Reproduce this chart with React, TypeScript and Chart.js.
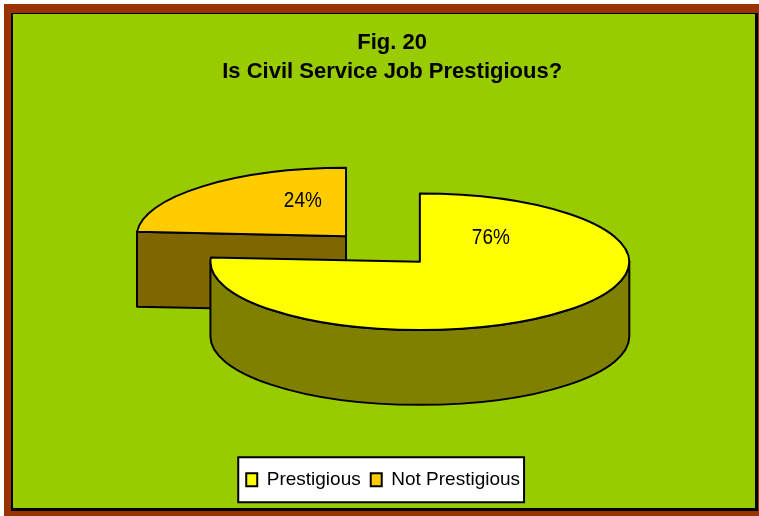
import React, { useEffect, useRef } from 'react';
import { Chart, registerables } from 'chart.js';

Chart.register(...registerables);

// ---- data ----
const categories = ['Prestigious', 'Not Prestigious'];
const shares = [76, 24];
const titleLines = ['Fig. 20', 'Is Civil Service Job Prestigious?'];

// ---- style ----
const topColors = ['#FFFF00', '#FFCC00'];
const sideColors = ['#808000', '#806600'];
const explosion = [0, 0.515]; // fraction of radius
const labelOffsets = [
  [0.339, -0.347],
  [-0.206, -0.518],
]; // relative to slice centre, in radius units (flat circle space)

const TILT = 0.326; // ry / rx
const DEPTH = 0.357; // depth / rx
const FONT = '"Liberation Sans", Arial, Helvetica, sans-serif';

const pie3d = {
  id: 'pie3d',
  afterLayout(chart: any) {
    const t = chart.titleBlock;
    if (t) {
      t.left += 9;
      t.right += 9;
    }
  },
  beforeDraw(chart: any) {
    const lg = chart.legend;
    const hb = lg && lg.legendHitBoxes;
    if (!hb || !hb.length) return;
    const ctx = chart.ctx as CanvasRenderingContext2D;
    const first = hb[0];
    const last = hb[hb.length - 1];
    const left = first.left - 8;
    const right = last.left + last.width + 4;
    const cy = first.top + first.height / 2;
    ctx.save();
    ctx.fillStyle = '#FFFFFF';
    ctx.strokeStyle = '#000000';
    ctx.lineWidth = 2;
    ctx.fillRect(left, cy - 22.5, right - left, 45);
    ctx.strokeRect(left, cy - 22.5, right - left, 45);
    ctx.restore();
  },
  beforeDatasetsDraw(chart: any) {
    const ctx = chart.ctx as CanvasRenderingContext2D;
    const meta = chart.getDatasetMeta(0);
    const arcs = meta.data as any[];
    const ca = chart.chartArea;
    const values = chart.data.datasets[0].data as number[];
    const total = values.reduce((a: number, b: number) => a + b, 0);

    const slices = arcs.map((a, i) => {
      const start = a.startAngle as number;
      const end = a.endAngle as number;
      const mid = (start + end) / 2;
      const e = explosion[i] || 0;
      return { i, start, end, ox: e * Math.cos(mid), oy: e * Math.sin(mid) * TILT };
    });

    // bounding box in unit space
    let minX = Infinity, maxX = -Infinity, minY = Infinity, maxY = -Infinity;
    const add = (x: number, y: number) => {
      minX = Math.min(minX, x); maxX = Math.max(maxX, x);
      minY = Math.min(minY, y); maxY = Math.max(maxY, y);
    };
    slices.forEach((s) => {
      add(s.ox, s.oy); add(s.ox, s.oy + DEPTH);
      const N = 200;
      for (let k = 0; k <= N; k++) {
        const t = s.start + ((s.end - s.start) * k) / N;
        const x = s.ox + Math.cos(t);
        const y = s.oy + Math.sin(t) * TILT;
        add(x, y); add(x, y + DEPTH);
      }
    });
    const bw = maxX - minX, bh = maxY - minY;
    const sc = Math.min((ca.right - ca.left) / bw, (ca.bottom - ca.top) / bh);
    const X0 = (ca.left + ca.right) / 2 - (sc * (minX + maxX)) / 2;
    const Y0 = (ca.top + ca.bottom) / 2 - (sc * (minY + maxY)) / 2;
    const rx = sc, ry = sc * TILT, d = sc * DEPTH;

    ctx.save();
    ctx.lineWidth = 2;
    ctx.strokeStyle = '#000000';
    ctx.lineJoin = 'round';

    const order = [...slices].sort((a, b) => a.oy - b.oy || a.i - b.i);
    order.forEach((s) => {
      const cx = X0 + sc * s.ox;
      const cy = Y0 + sc * s.oy;
      const side = sideColors[s.i];
      const rim = (t: number) => [cx + rx * Math.cos(t), cy + ry * Math.sin(t)];

      const radial = (t: number) => {
        const [px, py] = rim(t);
        ctx.beginPath();
        ctx.moveTo(cx, cy);
        ctx.lineTo(px, py);
        ctx.lineTo(px, py + d);
        ctx.lineTo(cx, cy + d);
        ctx.closePath();
        ctx.fillStyle = side;
        ctx.fill();
        ctx.stroke();
      };
      if (Math.cos(s.start) < -1e-6) radial(s.start);
      if (Math.cos(s.end) > 1e-6) radial(s.end);

      // curved outer side, visible for angles in [2k*pi, 2k*pi + pi]
      for (let k = -1; k <= 2; k++) {
        const lo = Math.max(s.start, 2 * Math.PI * k);
        const hi = Math.min(s.end, 2 * Math.PI * k + Math.PI);
        if (hi - lo > 1e-6) {
          const [hx, hy] = rim(hi);
          ctx.beginPath();
          ctx.ellipse(cx, cy, rx, ry, 0, lo, hi);
          ctx.lineTo(hx, hy + d);
          ctx.ellipse(cx, cy + d, rx, ry, 0, hi, lo, true);
          ctx.closePath();
          ctx.fillStyle = side;
          ctx.fill();
          ctx.stroke();
        }
      }

      // top face
      const [sx, sy] = rim(s.start);
      ctx.beginPath();
      ctx.moveTo(cx, cy);
      ctx.lineTo(sx, sy);
      ctx.ellipse(cx, cy, rx, ry, 0, s.start, s.end);
      ctx.closePath();
      ctx.fillStyle = topColors[s.i];
      ctx.fill();
      ctx.stroke();
    });

    // labels
    ctx.fillStyle = '#000000';
    ctx.font = `19px ${FONT}`;
    ctx.textAlign = 'center';
    ctx.textBaseline = 'middle';
    slices.forEach((s) => {
      const cx = X0 + sc * s.ox;
      const cy = Y0 + sc * s.oy;
      const [lu, lv] = labelOffsets[s.i];
      const lx = cx + sc * lu;
      const ly = cy + sc * lv * TILT;
      const pct = Math.round((values[s.i] / total) * 100) + '%';
      ctx.save();
      ctx.translate(lx, ly);
      ctx.scale(1, 1.2);
      ctx.fillText(pct, 0, 0);
      ctx.restore();
    });
    ctx.restore();
    return false;
  },
};

export default function App() {
  const ref = useRef<HTMLCanvasElement | null>(null);

  useEffect(() => {
    if (!ref.current) return;
    const chart = new Chart(ref.current, {
      type: 'pie',
      data: {
        labels: categories,
        datasets: [
          {
            data: shares,
            backgroundColor: topColors,
            borderColor: '#000000',
            borderWidth: 2,
          },
        ],
      },
      options: {
        responsive: false,
        animation: false,
        events: [],
        layout: { padding: { top: 0, left: 137, right: 129.7, bottom: 16.75 } },
        plugins: {
          title: {
            display: true,
            text: titleLines,
            color: '#000000',
            font: { family: FONT, size: 22, weight: 'bold', lineHeight: 28.3 / 22 },
            padding: { top: 29.1, bottom: 26.75 },
          },
          legend: {
            display: true,
            position: 'bottom',
            labels: {
              boxWidth: 11,
              boxHeight: 13,
              padding: 10,
              color: '#000000',
              font: { family: FONT, size: 19 },
            },
          },
          tooltip: { enabled: false },
        },
      } as any,
      plugins: [pie3d as any],
    });
    return () => chart.destroy();
  }, []);

  return (
    <div
      style={{
        position: 'fixed',
        left: 0,
        top: 0,
        width: 759,
        height: 516,
        background: '#FFFFFF',
        overflow: 'hidden',
      }}
    >
      <div style={{ position: 'absolute', left: 4, top: 4, width: 770, height: 530, background: '#993300' }} />
      <div
        style={{
          position: 'absolute',
          left: 11,
          top: 13,
          width: 747,
          height: 498,
          boxSizing: 'border-box',
          background: '#99CC00',
          borderStyle: 'solid',
          borderColor: '#000000',
          borderWidth: '1px 3px 3px 2px',
        }}
      />
      <canvas ref={ref} width={759} height={516} style={{ position: 'absolute', left: 0, top: 0 }} />
    </div>
  );
}
